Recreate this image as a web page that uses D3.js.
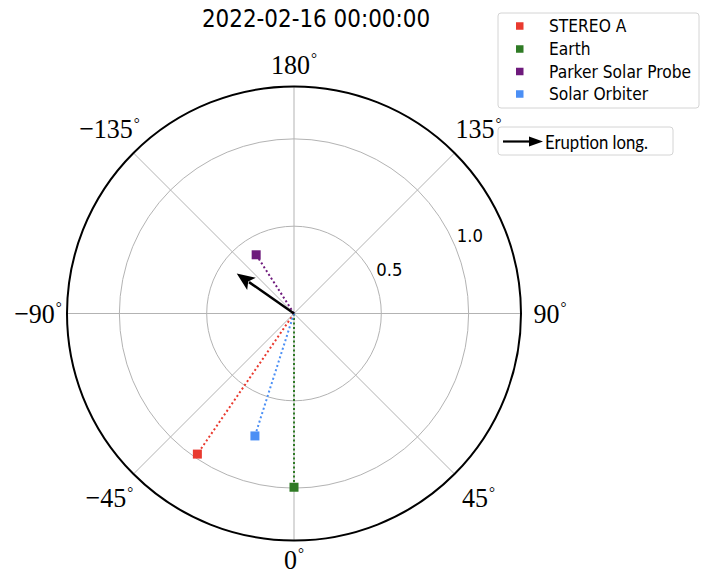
<!DOCTYPE html>
<html><head><meta charset="utf-8">
<script src="https://cdn.jsdelivr.net/npm/d3@7"></script>
<style>html,body{margin:0;padding:0;background:#fff;}svg{display:block;}</style>
</head><body>
<script>
// ---- data ----
const titleText = "2022-02-16 00:00:00";
const bodies = ["STEREO A", "Earth", "Parker Solar Probe", "Solar Orbiter"];
const longitudes = [-34.5, 0, -147.2, -17.7];      // degrees
const distances = [0.977, 0.995, 0.40, 0.736];      // AU
const bodyColors = ["#e93a2f", "#2f7b25", "#6e1a7c", "#4b8ff5"];
const eruptionLabel = "Eruption long.";
const eruptionLong = -124.9;
const eruptionLen = 0.40;
const rTicks = [0.5, 1.0];
const rTickLabels = ["0.5", "1.0"];
const thetaTicks = [0, 45, 90, 135, 180, -135, -90, -45];
const thetaTickLabels = ["0", "45", "90", "135", "180", "\u2212135", "\u221290", "\u221245"];
const rMax = 1.3;

// ---- layout ----
const W = 708, H = 574;
const cx = 294, cy = 313.5, R = 227;
const svg = d3.select("body").append("svg").attr("width", W).attr("height", H);

const rScale = d3.scaleLinear().domain([0, rMax]).range([0, R]);
const toRad = d => d * Math.PI / 180;
const px = (th, r) => cx + rScale(r) * Math.sin(toRad(th));
const py = (th, r) => cy + rScale(r) * Math.cos(toRad(th));

// grid rings
svg.append("g").selectAll("circle").data(rTicks).join("circle")
  .attr("cx", cx).attr("cy", cy).attr("r", d => rScale(d))
  .attr("fill", "none").attr("stroke", "#b3b3b3").attr("stroke-width", 1);
// spokes
svg.append("g").selectAll("line").data(thetaTicks).join("line")
  .attr("x1", cx).attr("y1", cy)
  .attr("x2", d => px(d, rMax)).attr("y2", d => py(d, rMax))
  .attr("stroke", "#b3b3b3").attr("stroke-width", 1);
// outer circle
svg.append("circle").attr("cx", cx).attr("cy", cy).attr("r", R)
  .attr("fill", "none").attr("stroke", "#000").attr("stroke-width", 2);

// radial labels
svg.append("g").selectAll("text").data(rTicks).join("text")
  .attr("transform", d => `translate(${px(112.5, d) + 1.5},${py(112.5, d) - 4.5}) scale(1,1.08)`)
  .attr("font-family", "DejaVu Sans").attr("font-size", 16.5).attr("fill", "#000")
  .text((d, i) => rTickLabels[i]);

// theta labels
const tg = svg.append("g");
const sy = 1.06;
thetaTicks.forEach((th, i) => {
  const g = tg.append("g");
  const inner = g.append("g").attr("transform", `scale(1,${sy})`);
  const t = inner.append("text").attr("font-family", "Liberation Serif").attr("font-size", 26)
    .attr("text-anchor", "middle").attr("fill", "#000");
  t.append("tspan").text(thetaTickLabels[i]);
  t.append("tspan").attr("font-size", 15).attr("dx", 1).attr("dy", -9).text("\u00b0");
  const bb = t.node().getBBox();
  const bcx = bb.x + bb.width / 2, bcy = (bb.y + bb.height / 2) * sy;
  const s = Math.abs(Math.sin(toRad(th))), c = Math.abs(Math.cos(toRad(th)));
  const dist = (s > 0.1 && c > 0.1) ? 261 : (c > 0.9 ? (th === 0 ? 246 : 249) : 256);
  const tx = cx + dist * Math.sin(toRad(th)), ty = cy + dist * Math.cos(toRad(th));
  g.attr("transform", `translate(${tx - bcx},${ty - bcy})`);
});

// dotted lines from sun to bodies
svg.append("g").selectAll("line").data(bodies).join("line")
  .attr("x1", cx).attr("y1", cy)
  .attr("x2", (d, i) => px(longitudes[i], distances[i]))
  .attr("y2", (d, i) => py(longitudes[i], distances[i]))
  .attr("stroke", (d, i) => bodyColors[i]).attr("stroke-width", 2)
  .attr("stroke-dasharray", "2,2.5");

// eruption arrow
{
  const ex = px(eruptionLong, eruptionLen), ey = py(eruptionLong, eruptionLen);
  const ang = Math.atan2(ey - cy, ex - cx);
  const hl = 18, hw = 7.5;
  const bx = ex - hl * Math.cos(ang), by = ey - hl * Math.sin(ang);
  svg.append("line").attr("x1", cx).attr("y1", cy)
    .attr("x2", ex - (hl - 3) * Math.cos(ang)).attr("y2", ey - (hl - 3) * Math.sin(ang))
    .attr("stroke", "#000").attr("stroke-width", 2.5);
  const nx = -Math.sin(ang), ny = Math.cos(ang);
  const ix = ex - (hl - 4) * Math.cos(ang), iy = ey - (hl - 4) * Math.sin(ang);
  svg.append("path")
    .attr("d", `M${ex},${ey} L${bx + hw * nx},${by + hw * ny} L${ix},${iy} L${bx - hw * nx},${by - hw * ny} Z`)
    .attr("fill", "#000");
}

// markers
const ms = 9;
svg.append("g").selectAll("rect").data(bodies).join("rect")
  .attr("x", (d, i) => px(longitudes[i], distances[i]) - ms / 2)
  .attr("y", (d, i) => py(longitudes[i], distances[i]) - ms / 2)
  .attr("width", ms).attr("height", ms)
  .attr("fill", (d, i) => bodyColors[i]);

// title
svg.append("text")
  .attr("transform", "translate(316,27) scale(1,1.12)")
  .attr("text-anchor", "middle").attr("font-family", "DejaVu Sans").attr("font-size", 21.5)
  .attr("fill", "#000").text(titleText);

// legend 1
const lg = svg.append("g");
lg.append("rect").attr("x", 498).attr("y", 13).attr("width", 201).attr("height", 95)
  .attr("rx", 3).attr("fill", "#fff").attr("stroke", "#d4d4d4").attr("stroke-width", 1);
const rowY = [26, 49, 71.5, 94];
const items = lg.selectAll("g.item").data(bodies).join("g").attr("class", "item")
  .attr("transform", (d, i) => `translate(0,${rowY[i]})`);
items.append("rect").attr("x", 516).attr("y", -3.75).attr("width", 7.5).attr("height", 7.5)
  .attr("fill", (d, i) => bodyColors[i]);
items.append("text").attr("transform", "translate(549,6) scale(1,1.08)")
  .attr("font-family", "DejaVu Sans").attr("font-size", 15.5).attr("fill", "#000")
  .text(d => d);

// legend 2
const lg2 = svg.append("g");
lg2.append("rect").attr("x", 498).attr("y", 127).attr("width", 175).attr("height", 28)
  .attr("rx", 3).attr("fill", "#fff").attr("stroke", "#d4d4d4").attr("stroke-width", 1);
lg2.append("line").attr("x1", 503).attr("y1", 141.5).attr("x2", 531).attr("y2", 141.5)
  .attr("stroke", "#000").attr("stroke-width", 2.2);
lg2.append("path").attr("d", "M529,136.5 L543,141.5 L529,146.5 Z").attr("fill", "#000");
lg2.append("text").attr("transform", "translate(545,148.5)")
  .attr("font-family", "Lato").attr("font-size", 18.5).attr("fill", "#000")
  .attr("textLength", 103).attr("lengthAdjust", "spacingAndGlyphs")
  .text(eruptionLabel);
</script>
</body></html>
